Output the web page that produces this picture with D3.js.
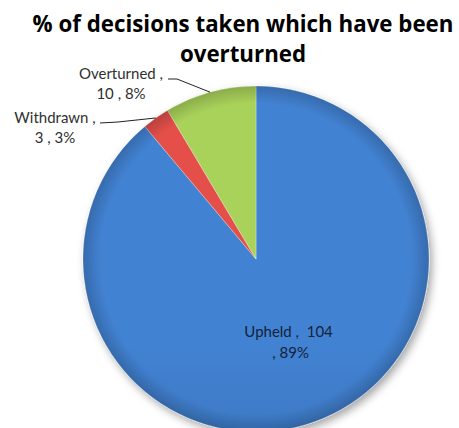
<!DOCTYPE html>
<html>
<head>
<meta charset="utf-8">
<script src="https://cdn.jsdelivr.net/npm/d3@7"></script>
<style>
  body { margin: 0; background: #fff; }
  svg { display: block; }
  text { white-space: pre; }
</style>
</head>
<body>
<svg id="canvas"></svg>
<script>
let categories = ["Upheld", "Withdrawn", "Overturned"]
let counts = [104, 3, 10]
let percents = ["89%", "3%", "8%"]
let titleLines = ["% of decisions taken which have been", "overturned"]

let width = 459
let height = 428
let cx = 256
let cy = 259
let radius = 173

// top / bottom shades for each slice
let shades = [
    ["#4282d2", "#2f5e9c"],
    ["#e4504a", "#b82e2a"],
    ["#a9d25a", "#84a63a"]
]

let canvas = d3.select("#canvas")
    .attr("width", width)
    .attr("height", height)

let defs = canvas.append("defs")

shades.forEach((s, i) => {
    let g = defs.append("linearGradient")
        .attr("id", "grad" + i)
        .attr("gradientUnits", "userSpaceOnUse")
        .attr("x1", 0).attr("y1", cy - radius)
        .attr("x2", 0).attr("y2", cy + radius)
    g.append("stop").attr("offset", "0%").attr("stop-color", s[0])
    g.append("stop").attr("offset", "100%").attr("stop-color", s[1])
})

let shadow = defs.append("filter")
    .attr("id", "shadow")
    .attr("x", "-20%").attr("y", "-20%")
    .attr("width", "140%").attr("height", "140%")
shadow.append("feDropShadow")
    .attr("dx", 3).attr("dy", 4)
    .attr("stdDeviation", 4)
    .attr("flood-color", "#000")
    .attr("flood-opacity", 0.35)

let rim = defs.append("radialGradient")
    .attr("id", "rim")
    .attr("gradientUnits", "userSpaceOnUse")
    .attr("cx", cx).attr("cy", cy).attr("r", radius)
rim.append("stop").attr("offset", "90%").attr("stop-color", "#000").attr("stop-opacity", 0)
rim.append("stop").attr("offset", "100%").attr("stop-color", "#000").attr("stop-opacity", 0.18)

let data = categories.map((c, i) => ({ name: c, count: counts[i], pct: percents[i], idx: i }))

let pie = d3.pie()
    .sort(null)
    .value(d => d.count)

let arcs = pie(data)

let arc = d3.arc()
    .innerRadius(0)
    .outerRadius(radius)

let pieGroup = canvas.append("g")
    .attr("transform", "translate(" + cx + "," + cy + ")")

pieGroup.append("g")
    .attr("filter", "url(#shadow)")
    .selectAll("path")
    .data(arcs)
    .enter()
    .append("path")
    .attr("d", arc)
    .attr("fill", d => "url(#grad" + d.data.idx + ")")
    .attr("stroke", "rgba(255,255,255,0.3)")
    .attr("stroke-width", 1)

// darker rim round the edge
pieGroup.append("circle")
    .attr("r", radius)
    .attr("fill", "url(#rim)")
    .attr("transform", "translate(" + (-cx) + "," + (-cy) + ")")
    .attr("cx", cx).attr("cy", cy)

// title
canvas.append("g")
    .selectAll("text")
    .data(titleLines)
    .enter()
    .append("text")
    .attr("x", 243)
    .attr("y", (d, i) => 32 + i * 30)
    .attr("text-anchor", "middle")
    .style("font-family", "'Open Sans', sans-serif")
    .style("font-weight", "bold")
    .style("font-size", "22.3px")
    .attr("fill", "#000")
    .text(d => d)

// label layout: text anchor and leader bend points, line ends on the slice's mid angle
let outerLabels = {
    "Withdrawn": { x: 55, y: 123, line: [[100, 123], [118, 122]] },
    "Overturned": { x: 121, y: 79, line: [[168, 79], [177, 79]] }
}

let edgePoint = (d) => {
    let a = (d.startAngle + d.endAngle) / 2
    return [cx + radius * Math.sin(a), cy - radius * Math.cos(a)]
}

let labelFont = "Lato, 'Open Sans', sans-serif"

arcs.forEach((d) => {
    let name = d.data.name
    if (outerLabels[name]) {
        let L = outerLabels[name]
        let e = edgePoint(d)
        canvas.append("path")
            .attr("d", d3.line()([L.line[0], L.line[1], e]))
            .attr("fill", "none")
            .attr("stroke", "#222")
            .attr("stroke-width", 1)
        let t = canvas.append("text")
            .attr("text-anchor", "middle")
            .style("font-family", labelFont)
            .style("font-size", "15px")
            .attr("fill", "#303030")
        t.append("tspan").attr("x", L.x).attr("y", L.y).text(name + " ,")
        t.append("tspan").attr("x", L.x).attr("y", L.y + 20).text(d.data.count + " , " + d.data.pct)
    } else {
        let c = arc.centroid(d)
        let t = canvas.append("text")
            .attr("text-anchor", "middle")
            .style("font-family", labelFont)
            .style("font-size", "15px")
            .attr("fill", "#13233a")
        t.append("tspan").attr("x", cx + c[0] + 3).attr("y", cy + c[1] - 3).text(name + " ,  " + d.data.count)
        t.append("tspan").attr("x", cx + c[0] + 5).attr("y", cy + c[1] + 18).text(", " + d.data.pct)
    }
})
</script>
</body>
</html>
